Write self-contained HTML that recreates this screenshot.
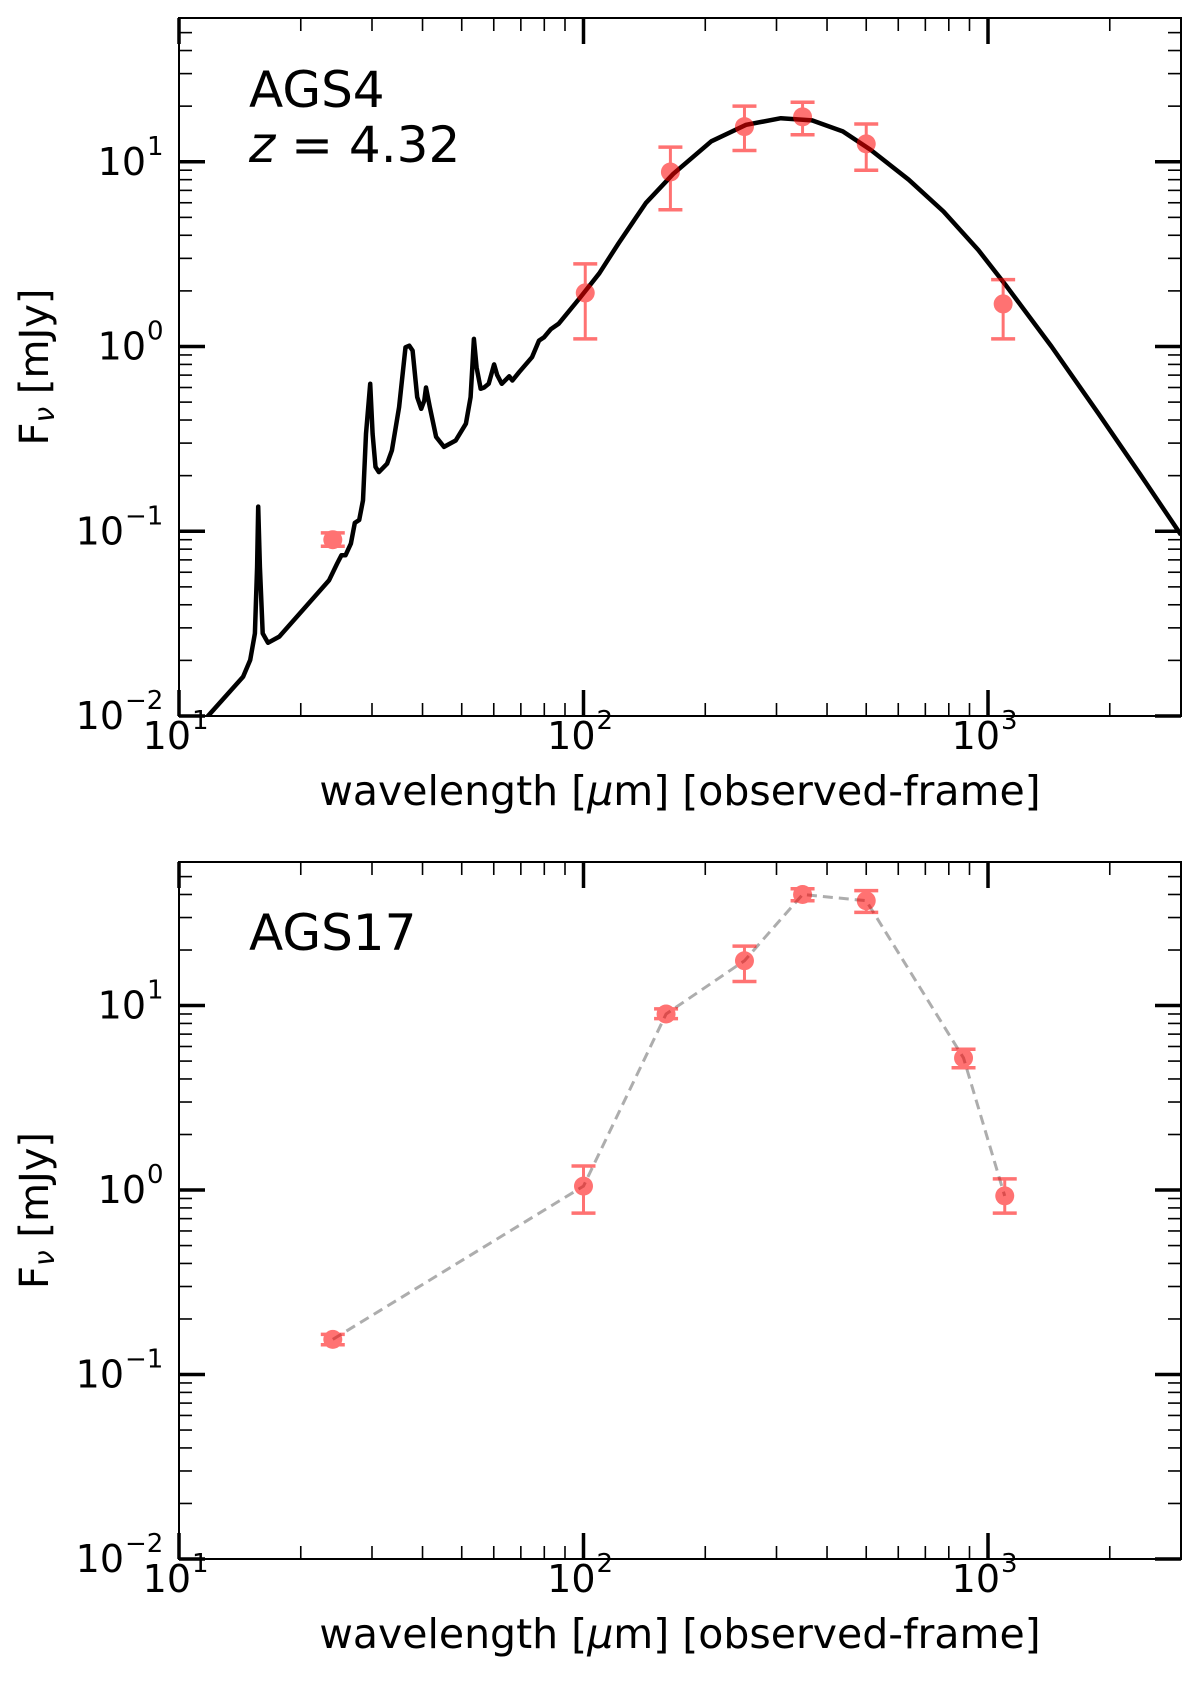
<!DOCTYPE html>
<html><head><meta charset="utf-8"><style>
html,body{margin:0;padding:0;background:#fff}
svg{display:block}
text{font-family:"DejaVu Sans","Liberation Sans",sans-serif;fill:#000}
</style></head><body>
<svg id="fig" width="1200" height="1682" viewBox="0 0 1200 1682" xmlns="http://www.w3.org/2000/svg"></svg>
<script>
// ---- data ----
const modelX = [11.75,14.4,15.0,15.4,15.6,15.7,15.85,16.1,16.6,17.7,23.5,24.6,25.2,25.8,26.6,27.2,27.9,28.5,29.0,29.7,30.1,30.6,31.2,32.7,33.6,35.0,36.3,37.1,37.8,38.8,39.7,40.4,40.8,41.7,43.2,45.2,48.3,51.2,52.6,53.1,53.6,54.4,55.7,56.8,58.3,60.1,61.2,62.8,65.5,66.7,69.3,74.6,77.6,79.8,83.0,86.9,97.9,109.4,122.2,142.6,166.7,207,252.4,307.6,367.3,437.5,512.9,636.8,776.2,946.2,1104,1435,1871,2382,3000];
const modelY = [0.0099,0.0163,0.0201,0.028,0.064,0.136,0.064,0.028,0.0249,0.0269,0.0543,0.0668,0.0741,0.0741,0.0857,0.111,0.115,0.147,0.337,0.628,0.337,0.223,0.209,0.232,0.274,0.47,0.99,1.01,0.95,0.532,0.46,0.51,0.60,0.47,0.324,0.286,0.31,0.382,0.532,0.77,1.10,0.77,0.59,0.60,0.628,0.80,0.70,0.628,0.69,0.655,0.726,0.875,1.076,1.12,1.24,1.33,1.83,2.49,3.63,5.97,8.61,12.9,15.85,17.2,16.75,14.6,11.6,8.0,5.38,3.33,2.16,1.0,0.436,0.202,0.0955];
const topX = [24,101,164,250,348,500,1090];
const topY = [0.09,1.95,8.8,15.5,17.5,12.5,1.7];
const topLo = [0.083,1.1,5.5,11.5,14,9,1.1];
const topHi = [0.098,2.8,12,20,21,16,2.3];
const botX = [24,100,160,250,348,500,870,1100];
const botY = [0.155,1.05,9.0,17.5,40,37,5.2,0.93];
const botLo = [0.145,0.75,8.5,13.5,37,32,4.6,0.75];
const botHi = [0.165,1.35,9.6,21,43,42,5.8,1.15];
const xTicks = [10,100,1000];
const xTickLabels = ["1","2","3"];
const yTicks = [0.01,0.1,1,10];
const yTickLabels = ["\u22122","\u22121","0","1"];

const NS="http://www.w3.org/2000/svg";
const svg=document.getElementById('fig');
function el(tag,attrs,parent){const e=document.createElementNS(NS,tag);for(const k in attrs)e.setAttribute(k,attrs[k]);(parent||svg).appendChild(e);return e;}

const L=179,R=1181,XMIN=1,XMAX=Math.log10(3000),YMIN=-2,YMAX=Math.log10(60);
function makePanel(top,bottom,name){
  const sx=v=>L+(Math.log10(v)-XMIN)/(XMAX-XMIN)*(R-L);
  const sy=v=>bottom-(Math.log10(v)-YMIN)/(YMAX-YMIN)*(bottom-top);
  const g=el('g',{});
  
  
  const ax=el('g',{},g);
  
  
  for(let d=1;d<=3;d++)for(let m=2;m<=9;m++){const v=m*Math.pow(10,d);if(v>3000)continue;const x=sx(v);
    el('line',{x1:x,x2:x,y1:bottom,y2:bottom-13,stroke:'#000','stroke-width':1.6},ax);
    el('line',{x1:x,x2:x,y1:top,y2:top+13,stroke:'#000','stroke-width':1.6},ax);}
  xTicks.forEach((v,i)=>{const x=sx(v);
    el('line',{x1:x,x2:x,y1:bottom,y2:bottom-26,stroke:'#000','stroke-width':3.5},ax);
    el('line',{x1:x,x2:x,y1:top,y2:top+26,stroke:'#000','stroke-width':3.5},ax);
    const t=el('text',{x:x+12,y:bottom+33,'font-size':38,'text-anchor':'end'},ax);t.textContent='10';
    const s=el('text',{x:x+13,y:bottom+13,'font-size':26},ax);s.textContent=xTickLabels[i];
    
  });
  for(let d=-2;d<=1;d++)for(let m=2;m<=9;m++){const v=m*Math.pow(10,d);if(v>60)continue;const y=sy(v);
    el('line',{x1:L,x2:L+13,y1:y,y2:y,stroke:'#000','stroke-width':1.6},ax);
    el('line',{x1:R,x2:R-13,y1:y,y2:y,stroke:'#000','stroke-width':1.6},ax);}
  yTicks.forEach((v,i)=>{const y=sy(v);
    el('line',{x1:L,x2:L+26,y1:y,y2:y,stroke:'#000','stroke-width':3.5},ax);
    el('line',{x1:R,x2:R-26,y1:y,y2:y,stroke:'#000','stroke-width':3.5},ax);
    const lab=yTickLabels[i];
    const supW=lab.length>1?36:14;
    const t=el('text',{x:L-19-supW,y:y+13,'font-size':38,'text-anchor':'end'},ax);t.textContent='10';
    
    const s=el('text',{x:L-19-supW+1,y:y-7,'font-size':26},ax);s.textContent=lab;
  });
  el('rect',{x:L,y:top,width:R-L,height:bottom-top,fill:'none',stroke:'#000','stroke-width':2},ax);
  const xl=el('text',{x:(L+R)/2,y:bottom+89,'font-size':41,'text-anchor':'middle'},g);
  xl.innerHTML='wavelength [<tspan font-style="italic">\u03bc</tspan>m] [observed-frame]';
  
  const cy=(top+bottom)/2;
  const yl=el('text',{x:37,y:cy,'font-size':40,'text-anchor':'middle','dominant-baseline':'middle',transform:`rotate(-90 37 ${cy})`},g);
  yl.innerHTML='F<tspan font-size="28" dy="9" font-style="italic">\u03bd</tspan><tspan dy="-9"> [mJy]</tspan>';
  
  return {g,sx,sy};
}
function drawPoints(p,X,Y,LO,HI,nm){
  X.forEach((xv,i)=>{const x=p.sx(xv);
    const gg=el('g',{opacity:0.55},p.g);
    
    
    el('line',{x1:x,x2:x,y1:p.sy(LO[i]),y2:p.sy(HI[i]),stroke:'#ff0000','stroke-width':3},gg);
    el('line',{x1:x-12,x2:x+12,y1:p.sy(LO[i]),y2:p.sy(LO[i]),stroke:'#ff0000','stroke-width':3.5},gg);
    el('line',{x1:x-12,x2:x+12,y1:p.sy(HI[i]),y2:p.sy(HI[i]),stroke:'#ff0000','stroke-width':3.5},gg);
    el('circle',{cx:x,cy:p.sy(Y[i]),r:9.5,fill:'#ff0000'},gg);
  });
}
const p1=makePanel(18,716,'panel-ags4');
const clip=el('clipPath',{id:'c1'});el('rect',{x:L,y:18,width:R-L,height:698},clip);
const mpath=el('path',{d:modelX.map((v,i)=>(i?'L':'M')+p1.sx(v).toFixed(1)+' '+p1.sy(modelY[i]).toFixed(1)).join(' '),fill:'none',stroke:'#000','stroke-width':4.5,'stroke-linejoin':'round','clip-path':'url(#c1)'},p1.g);


drawPoints(p1,topX,topY,topLo,topHi,'ags4');
const t1=el('text',{x:249,y:107,'font-size':50},p1.g);t1.textContent='AGS4';

const t2=el('text',{x:249,y:162,'font-size':50},p1.g);t2.innerHTML='<tspan font-style="italic">z</tspan> = 4.32';

const p2=makePanel(862,1559,'panel-ags17');
const dl=el('path',{d:botX.map((v,i)=>(i?'L':'M')+p2.sx(v).toFixed(1)+' '+p2.sy(botY[i]).toFixed(1)).join(' '),fill:'none',stroke:'#999','stroke-width':3,'stroke-dasharray':'10 6',opacity:0.8},p2.g);


drawPoints(p2,botX,botY,botLo,botHi,'ags17');
const t3=el('text',{x:249,y:950,'font-size':50},p2.g);t3.textContent='AGS17';

</script>
</body></html>
